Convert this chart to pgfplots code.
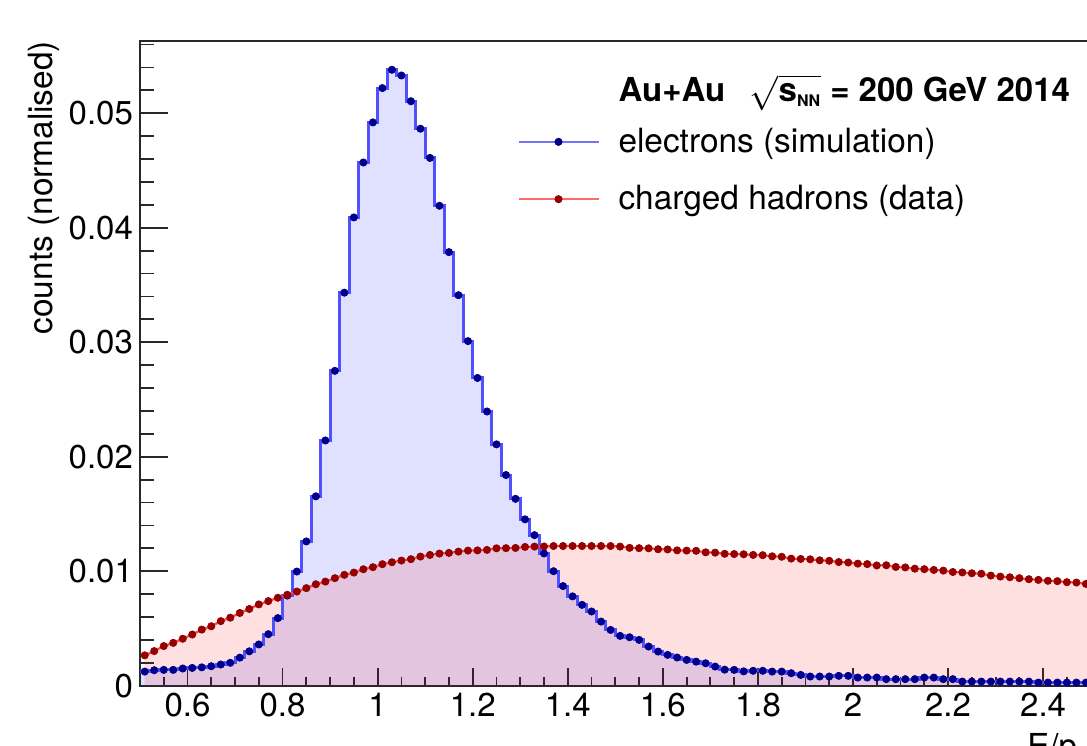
\documentclass[border=0pt]{standalone}
\usepackage{fontspec}
\setmainfont{TeX Gyre Heros}
\usepackage{pgfplots}
\pgfplotsset{compat=1.18}
\usepackage{pgfplotstable}

\definecolor{hblue}{RGB}{80,80,255}
\definecolor{hnavy}{RGB}{0,0,140}
\definecolor{hred}{RGB}{255,70,70}
\definecolor{hdred}{RGB}{150,0,0}
\definecolor{axcol}{RGB}{40,40,40}

\pgfplotsset{rootleg/.style={legend image code/.code={\draw[mark repeat=2, mark phase=2, ##1] plot coordinates {(0pt,0pt) (20pt,0pt) (40pt,0pt)};}}}

\pgfplotstableread{
x y
0.51 0.00123
0.53 0.00135
0.55 0.00138
0.57 0.00138
0.59 0.00150
0.61 0.00155
0.63 0.00160
0.65 0.00170
0.67 0.00185
0.69 0.00200
0.71 0.00245
0.73 0.00300
0.75 0.00360
0.77 0.00450
0.79 0.00590
0.81 0.00787
0.83 0.00997
0.85 0.01260
0.87 0.01654
0.89 0.02142
0.91 0.02750
0.93 0.03433
0.95 0.04090
0.97 0.04570
0.99 0.04920
1.01 0.05220
1.03 0.05380
1.05 0.05330
1.07 0.05105
1.09 0.04865
1.11 0.04610
1.13 0.04192
1.15 0.03787
1.17 0.03411
1.19 0.03010
1.21 0.02688
1.23 0.02395
1.25 0.02108
1.27 0.01840
1.29 0.01632
1.31 0.01453
1.33 0.01315
1.35 0.01155
1.37 0.01000
1.39 0.00870
1.41 0.00780
1.43 0.00706
1.45 0.00648
1.47 0.00560
1.49 0.00487
1.51 0.00435
1.53 0.00423
1.55 0.00400
1.57 0.00342
1.59 0.00298
1.61 0.00269
1.63 0.00246
1.65 0.00225
1.67 0.00210
1.69 0.00196
1.71 0.00167
1.73 0.00140
1.75 0.00138
1.77 0.00125
1.79 0.00130
1.81 0.00130
1.83 0.00123
1.85 0.00123
1.87 0.00109
1.89 0.00094
1.91 0.00080
1.93 0.00080
1.95 0.00080
1.97 0.00086
1.99 0.00086
2.01 0.00071
2.03 0.00071
2.05 0.00071
2.07 0.00057
2.09 0.00057
2.11 0.00057
2.13 0.00057
2.15 0.00071
2.17 0.00071
2.19 0.00057
2.21 0.00057
2.23 0.00036
2.25 0.00036
2.27 0.00036
2.29 0.00036
2.31 0.00036
2.33 0.00036
2.35 0.00036
2.37 0.00036
2.39 0.00027
2.41 0.00027
2.43 0.00027
2.45 0.00027
2.47 0.00027
2.49 0.00027
2.51 0.00027
2.53 0.00025
2.55 0.00025
}\electrons

\pgfplotstableread{
x y
0.51 0.00265
0.53 0.00302
0.55 0.00346
0.57 0.00374
0.59 0.00410
0.61 0.00447
0.63 0.00490
0.65 0.00519
0.67 0.00564
0.69 0.00594
0.71 0.00635
0.73 0.00670
0.75 0.00710
0.77 0.00739
0.79 0.00768
0.81 0.00794
0.83 0.00822
0.85 0.00852
0.87 0.00886
0.89 0.00909
0.91 0.00939
0.93 0.00968
0.95 0.00988
0.97 0.01017
0.99 0.01035
1.01 0.01061
1.03 0.01078
1.05 0.01093
1.07 0.01105
1.09 0.01128
1.11 0.01142
1.13 0.01154
1.15 0.01160
1.17 0.01171
1.19 0.01180
1.21 0.01182
1.23 0.01186
1.25 0.01200
1.27 0.01201
1.29 0.01203
1.31 0.01212
1.33 0.01215
1.35 0.01216
1.37 0.01220
1.39 0.01220
1.41 0.01220
1.43 0.01220
1.45 0.01220
1.47 0.01220
1.49 0.01220
1.51 0.01215
1.53 0.01204
1.55 0.01201
1.57 0.01200
1.59 0.01192
1.61 0.01190
1.63 0.01182
1.65 0.01180
1.67 0.01178
1.69 0.01165
1.71 0.01162
1.73 0.01152
1.75 0.01150
1.77 0.01148
1.79 0.01142
1.81 0.01140
1.83 0.01130
1.85 0.01126
1.87 0.01110
1.89 0.01107
1.91 0.01104
1.93 0.01095
1.95 0.01091
1.97 0.01080
1.99 0.01076
2.01 0.01066
2.03 0.01062
2.05 0.01050
2.07 0.01052
2.09 0.01037
2.11 0.01033
2.13 0.01022
2.15 0.01018
2.17 0.01011
2.19 0.01005
2.21 0.00993
2.23 0.00989
2.25 0.00982
2.27 0.00978
2.29 0.00962
2.31 0.00953
2.33 0.00947
2.35 0.00939
2.37 0.00930
2.39 0.00924
2.41 0.00916
2.43 0.00913
2.45 0.00904
2.47 0.00901
2.49 0.00889
2.51 0.00885
2.53 0.00878
2.55 0.00872
}\hadrons

\begin{document}
\begin{tikzpicture}
\begin{axis}[
  scale only axis,
  width=489.7pt, height=322.55pt,
  xmin=0.5, xmax=2.56, ymin=0, ymax=0.05634,
  axis line style={axcol, line width=1pt},
  tick style={axcol, line width=0.9pt},
  tick align=inside, tick pos=left,
  xtick={0.6,0.8,1.0,1.2,1.4,1.6,1.8,2.0,2.2,2.4},
  ytick={0,0.01,0.02,0.03,0.04,0.05},
  minor xtick={0.55,0.65,0.7,0.75,0.85,0.9,0.95,1.05,1.1,1.15,1.25,1.3,1.35,1.45,1.5,1.55,1.65,1.7,1.75,1.85,1.9,1.95,2.05,2.1,2.15,2.25,2.3,2.35,2.45,2.5,2.55},
  minor ytick={0.002,0.004,0.006,0.008,0.012,0.014,0.016,0.018,0.022,0.024,0.026,0.028,0.032,0.034,0.036,0.038,0.042,0.044,0.046,0.048,0.052,0.054,0.056},
  x tick style={/pgfplots/major tick length=9pt, /pgfplots/minor tick length=4.5pt},
  y tick style={/pgfplots/major tick length=14pt, /pgfplots/minor tick length=7pt},
  scaled y ticks=false,
  scaled x ticks=false,
  yticklabel style={/pgf/number format/fixed, /pgf/number format/precision=2},
  xticklabel style={/pgf/number format/fixed, /pgf/number format/precision=1},
  /pgf/number format/assume math mode=true,
  tick label style={font=\fontsize{16.5}{19}\selectfont, text=black},
  ylabel={counts (normalised)},
  ylabel style={at={(axis description cs:-0.098,1)}, anchor=east, inner sep=0pt, font=\fontsize{16.7}{19}\selectfont},
  xlabel={E/p},
  xlabel style={at={(axis description cs:0.9058,0)}, anchor=north west, yshift=-23.5pt, inner sep=0pt, font=\fontsize{16.5}{19}\selectfont},
  legend style={at={(axis cs:1.2934,0.0450)}, anchor=west, draw=none, fill=none, inner sep=0pt,
    font=\fontsize{16.7}{19}\selectfont, row sep=15pt, nodes={inner sep=0pt},
    /tikz/every odd column/.append style={column sep=9.5pt}},
  legend cell align=left,
]
\addplot[const plot mark left, draw=none, fill=blue, fill opacity=0.12, forget plot]
  table[x expr=\thisrow{x}-0.01, y=y]{\electrons} \closedcycle;
\addplot[draw=none, fill=red, fill opacity=0.12, forget plot]
  table[x=x, y=y]{\hadrons} \closedcycle;
\addplot[const plot mark left, hblue, line width=1.5pt, forget plot]
  table[x expr=\thisrow{x}-0.01, y=y]{\electrons};
\addplot[hred, line width=1.1pt, forget plot] table[x=x, y=y]{\hadrons};
\addplot[only marks, mark=*, mark size=1.8pt, hnavy, forget plot] table[x=x, y=y]{\electrons};
\addplot[only marks, mark=*, mark size=1.8pt, hdred, forget plot] table[x=x, y=y]{\hadrons};

\addlegendimage{hblue!80, line width=1pt, mark=*, mark size=1.5pt, mark options={hnavy}, rootleg}
\addlegendentry{electrons (simulation)}
\addlegendimage{hred!80, line width=1pt, mark=*, mark size=1.5pt, mark options={hdred}, rootleg}
\addlegendentry{charged hadrons (data)}

\node[anchor=base west, inner sep=0pt, font=\fontsize{16.5}{19}\selectfont\bfseries]
  at (axis cs:1.506,0.05107)
  {Au+Au\hspace{0.75em}$\sqrt{\mbox{s}_{\mbox{\fontsize{8}{9}\selectfont\bfseries NN}}}$ = 200 GeV 2014};

\coordinate (bbsw) at (rel axis cs:0,0);
\coordinate (bbnw) at (rel axis cs:0,1);
\end{axis}
\pgfresetboundingbox
\path[use as bounding box] ([xshift=-70pt, yshift=-30.1pt]bbsw) rectangle ([xshift=473.6pt, yshift=20.35pt]bbnw);
\end{tikzpicture}
\end{document}
